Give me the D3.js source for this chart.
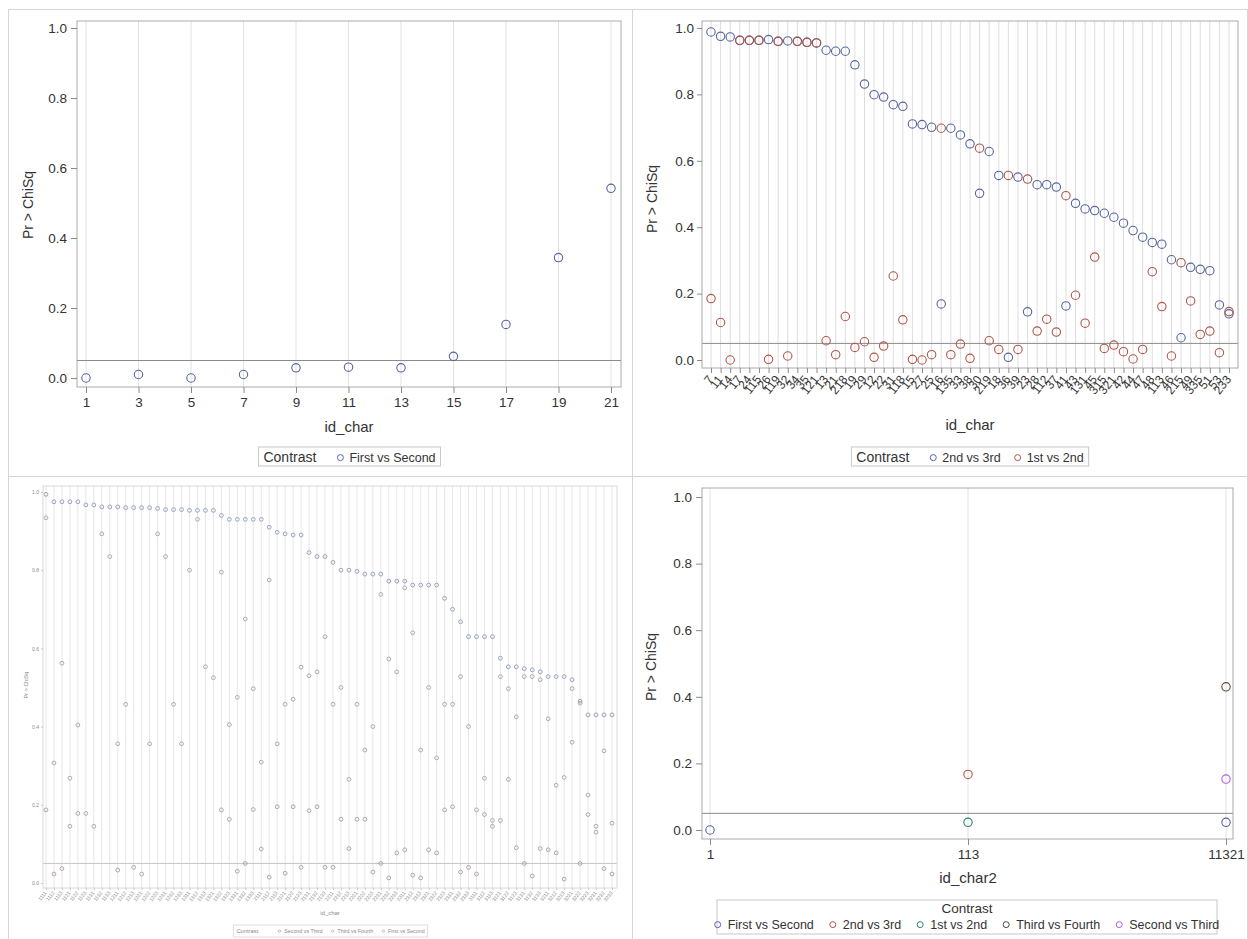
<!DOCTYPE html>
<html>
<head>
<meta charset="utf-8">
<script src="https://cdn.jsdelivr.net/npm/d3@7"></script>
<style>
  body { margin: 0; background: #fff; }
  text { font-family: "Liberation Sans", Arial, sans-serif; }
</style>
</head>
<body>
<script>
// ---------- data ----------
// top left: id_char, one contrast
var tlIds = ["1","3","5","7","9","11","13","15","17","19","21"];
var tlFirstSecond = [0.000,0.010,0.000,0.010,0.029,0.031,0.029,0.062,0.153,0.344,0.542];

// top right: id_char, two contrasts
var trIds = ["7","11","14","17","24","115","26","119","32","34","35","121","13","21","218","19","29","12","22","31",
             "118","15","27","25","16","135","33","38","30","219","18","36","39","23","28","112","37","41","43","131",
             "45","315","321","42","44","47","48","113","46","215","49","335","51","53","233"];
var tr2v3 = [0.988,0.975,0.973,0.963,0.963,0.963,0.965,0.960,0.961,0.960,0.957,0.955,0.933,0.930,0.930,0.889,0.831,0.799,0.792,0.769,
             0.764,0.711,0.709,0.701,0.169,0.698,0.678,0.651,0.502,0.628,0.556,0.008,0.551,0.145,0.528,0.528,0.521,0.163,0.472,0.455,
             0.450,0.442,0.430,0.412,0.390,0.370,0.354,0.349,0.302,0.067,0.279,0.273,0.269,0.166,0.139];
var tr1v2 = [0.185,0.113,0.000,0.963,0.963,0.963,0.002,0.960,0.012,0.960,0.957,0.955,0.058,0.016,0.131,0.038,0.055,0.008,0.042,0.253,
             0.121,0.002,0.000,0.016,0.698,0.016,0.048,0.005,0.638,0.058,0.032,0.556,0.032,0.545,0.087,0.123,0.084,0.495,0.195,0.111,
             0.310,0.035,0.045,0.025,0.003,0.032,0.266,0.161,0.012,0.293,0.178,0.077,0.087,0.022,0.146];

// bottom left: id_char, three contrasts (null = not shown)
var blIds = ["1111","1112","1113","1121","1122","1123","1131","1132","1133","1211","1212","1213","1221","1222","1223","1231","1232","1233",
             "1311","1312","1313","1321","1322","1323","1331","1332","1333","2111","2112","2113","2121","2122","2123","2131","2132","2133",
             "2211","2212","2213","2221","2222","2223","2231","2232","2233","2311","2312","2313","2321","2322","2323","2331","2332","2333",
             "3111","3112","3113","3121","3122","3123","3131","3132","3133","3211","3212","3213","3221","3222","3223","3231","3232","3233"];
var blSecondThird = [0.994,0.975,0.975,0.975,0.975,0.967,0.967,0.962,0.962,0.962,0.960,0.960,0.960,0.960,0.958,0.955,0.955,0.955,
                     0.953,0.953,0.953,0.953,0.940,0.930,0.930,0.930,0.930,0.930,0.910,0.897,0.893,0.890,0.890,0.845,0.835,0.835,
                     0.820,0.800,0.800,0.797,0.790,0.790,0.790,0.772,0.772,0.772,0.762,0.762,0.762,0.762,0.728,0.700,0.668,0.630,
                     0.630,0.630,0.630,0.575,0.553,0.553,0.548,0.545,0.540,0.528,0.528,0.528,0.520,0.465,0.430,0.430,0.430,0.430];
var blThirdFourth = [0.934,0.307,0.562,0.268,0.404,0.178,0.145,0.893,0.835,0.356,0.457,0.040,0.023,0.356,0.893,0.835,0.457,0.356,
                     0.800,0.930,0.553,0.525,0.795,0.405,0.475,0.675,0.497,0.309,0.775,0.356,0.457,0.470,0.552,0.530,0.540,0.630,
                     0.457,0.500,0.265,0.457,0.340,0.400,0.738,0.573,0.540,0.755,0.640,0.340,0.500,0.320,0.457,0.457,0.528,0.400,
                     0.187,0.268,0.160,0.528,0.497,0.425,0.528,0.528,0.520,0.420,0.250,0.270,0.497,0.460,0.225,0.145,0.338,0.153];
var blFirstSecond = [0.187,0.023,0.037,0.145,0.178,null,null,null,null,0.033,null,null,null,null,null,null,null,null,
                     null,null,null,null,0.187,0.163,0.030,0.050,0.188,0.087,0.015,0.195,0.025,0.195,0.040,0.185,0.195,0.040,
                     0.040,0.163,0.088,0.163,0.163,0.028,0.050,0.013,0.077,0.085,0.020,0.013,0.085,0.077,0.187,0.195,0.028,0.040,
                     0.023,0.175,0.145,0.160,0.265,0.090,0.050,0.018,0.088,0.085,0.077,0.010,0.360,0.050,0.175,0.130,0.037,0.023];

// bottom right: id_char2, five contrasts
var brIds = ["1","113","11321"];
var brFirstSecond = [0.000, null, 0.023];
var br2v3 = [null, 0.167, null];
var br1v2 = [null, 0.023, null];
var brThirdFourth = [null, null, 0.430];
var brSecondThird = [null, null, 0.153];

var yTicks = [0, 0.2, 0.4, 0.6, 0.8, 1.0];

// SAS-like colours
var cBlue = "#56669e", cRed = "#b0564a", cTeal = "#2f7d70", cBrown = "#5e4a3a", cPurple = "#b060d8";

var svg = d3.select("body").append("svg")
  .attr("width", 1248)
  .attr("height", 939);

// panel borders
svg.append("rect").attr("x", 8.5).attr("y", 9.5).attr("width", 1239).attr("height", 931)
  .attr("fill", "none").attr("stroke", "#d6d6d6");
svg.append("line").attr("x1", 632.5).attr("x2", 632.5).attr("y1", 9).attr("y2", 939).attr("stroke", "#d6d6d6");
svg.append("line").attr("x1", 8).attr("x2", 1248).attr("y1", 476.5).attr("y2", 476.5).attr("stroke", "#d6d6d6");

function drawPanel(p) {
  var g = svg.append("g");
  var x = d3.scalePoint().domain(p.cats).range([p.px0, p.px1]);
  var y = d3.scaleLinear().domain([0, 1]).range([p.py0, p.py1]);

  // vertical grid at each category
  g.append("g").selectAll("line")
    .data(p.cats)
    .enter()
    .append("line")
    .attr("x1", function(d) { return x(d); })
    .attr("x2", function(d) { return x(d); })
    .attr("y1", p.top)
    .attr("y2", p.bottom)
    .attr("stroke", p.grid);

  // reference line at 0.05
  g.append("line")
    .attr("x1", p.left).attr("x2", p.right)
    .attr("y1", y(0.05)).attr("y2", y(0.05))
    .attr("stroke", p.refColor).attr("stroke-width", 1);

  // frame
  g.append("rect")
    .attr("x", p.left).attr("y", p.top)
    .attr("width", p.right - p.left).attr("height", p.bottom - p.top)
    .attr("fill", "none").attr("stroke", p.frame);

  // axes
  var leftAxis = d3.axisLeft(y).tickValues(yTicks).tickFormat(d3.format(".1f"))
    .tickSize(p.tick).tickSizeOuter(0).tickPadding(p.tickPad);
  var ya = g.append("g").attr("transform", "translate(" + p.left + ",0)").call(leftAxis);
  ya.select(".domain").remove();
  ya.selectAll("line").attr("stroke", p.tickColor);
  ya.selectAll("text").attr("font-size", p.tickFont).attr("fill", p.textColor)
    .attr("font-family", "Liberation Sans, Arial, sans-serif");

  var bottomAxis = d3.axisBottom(x).tickSize(p.tick).tickSizeOuter(0).tickPadding(p.tickPad);
  var xa = g.append("g").attr("transform", "translate(0," + p.bottom + ")").call(bottomAxis);
  xa.select(".domain").remove();
  xa.selectAll("line").attr("stroke", p.tickColor);
  var xt = xa.selectAll("text").attr("font-size", p.xTickFont || p.tickFont).attr("fill", p.textColor)
    .attr("font-family", "Liberation Sans, Arial, sans-serif");
  if (p.rotate) {
    xt.attr("y", null).attr("dy", "0.35em")
      .attr("transform", "translate(-1," + (p.tick + p.rotOff) + ") rotate(" + p.rotate + ")")
      .style("text-anchor", "end");
  }

  // markers
  p.series.forEach(function(s) {
    var pts = p.cats.map(function(c, i) { return { c: c, v: s.values[i] }; })
      .filter(function(d) { return d.v !== null; });
    g.append("g").selectAll("circle")
      .data(pts)
      .enter()
      .append("circle")
      .attr("cx", function(d) { return x(d.c); })
      .attr("cy", function(d) { return y(d.v); })
      .attr("r", p.r)
      .attr("fill", "none")
      .attr("stroke", s.color)
      .attr("stroke-width", p.sw);
  });

  // axis titles
  g.append("text")
    .attr("transform", "translate(" + p.yTitleX + "," + p.yTitleY + ") rotate(-90)")
    .attr("text-anchor", "middle")
    .attr("font-size", p.titleFont)
    .attr("fill", p.textColor)
    .text("Pr > ChiSq");

  g.append("text")
    .attr("x", p.xTitleX).attr("y", p.xTitleY)
    .attr("text-anchor", "middle")
    .attr("font-size", p.xTitleFont || p.titleFont)
    .attr("fill", p.textColor)
    .text(p.xTitle);

  drawLegend(p.legend, p.series, p.textColor);
}

function drawLegend(L, series, textColor) {
  var g = svg.append("g");
  var box = g.append("rect").attr("fill", "#fff").attr("stroke", L.border);
  var items = g.append("g");
  var cx = 0;
  var title = null;
  if (!L.stacked) {
    title = items.append("text").attr("x", 0).attr("y", 0)
      .attr("font-size", L.titleFont).attr("fill", textColor).text("Contrast");
    cx = title.node().getComputedTextLength() + L.titleGap;
  }
  series.forEach(function(s) {
    items.append("circle").attr("cx", cx + L.r).attr("cy", -L.itemFont * 0.35)
      .attr("r", L.r).attr("fill", "none").attr("stroke", s.color).attr("stroke-width", L.sw);
    var t = items.append("text").attr("x", cx + L.markGap).attr("y", 0)
      .attr("font-size", L.itemFont).attr("fill", textColor).text(s.name);
    cx += L.markGap + t.node().getComputedTextLength() + L.itemGap;
  });
  var rowW = cx - L.itemGap;
  items.attr("transform", "translate(" + (L.cx - rowW / 2) + "," + L.rowY + ")");
  if (L.stacked) {
    g.append("text").attr("x", L.cx).attr("y", L.titleY).attr("text-anchor", "middle")
      .attr("font-size", L.titleFont).attr("fill", textColor).text("Contrast");
  }
  var w = L.w || rowW + 2 * L.pad;
  box.attr("x", L.cx - w / 2).attr("y", L.y).attr("width", w).attr("height", L.h);
}

// ---------- panels ----------
drawPanel({
  cats: tlIds, left: 77, right: 621, top: 21, bottom: 387,
  px0: 86, px1: 611, py0: 378, py1: 28,
  grid: "#e2e2e2", frame: "#a9a9a9", refColor: "#8a8a8a", tickColor: "#8a8a8a",
  tick: 6, tickPad: 4, tickFont: 13.5, textColor: "#333",
  r: 4.2, sw: 1.1,
  series: [{ name: "First vs Second", color: cBlue, values: tlFirstSecond }],
  yTitleX: 33, yTitleY: 205, titleFont: 14, xTitle: "id_char", xTitleX: 349, xTitleY: 432, xTitleFont: 15,
  legend: { cx: 349.5, y: 447, h: 19, rowY: 462, titleFont: 14, itemFont: 12.5, titleGap: 21, r: 3, sw: 1,
            markGap: 12, itemGap: 14, pad: 5, border: "#c8c8c8" }
});

drawPanel({
  cats: trIds, left: 702, right: 1238, top: 21, bottom: 368,
  px0: 711, px1: 1229, py0: 360, py1: 28,
  grid: "#dedede", frame: "#a9a9a9", refColor: "#8a8a8a", tickColor: "#8a8a8a",
  tick: 5, tickPad: 3, tickFont: 13.5, xTickFont: 12, textColor: "#333",
  rotate: -52, rotOff: 4,
  r: 4.2, sw: 1.1,
  series: [{ name: "2nd vs 3rd", color: cBlue, values: tr2v3 },
           { name: "1st vs 2nd", color: cRed, values: tr1v2 }],
  yTitleX: 657, yTitleY: 199, titleFont: 14, xTitle: "id_char", xTitleX: 970, xTitleY: 430, xTitleFont: 15,
  legend: { cx: 970, y: 447, h: 19, rowY: 462, titleFont: 14, itemFont: 12.5, titleGap: 21, r: 3, sw: 1,
            markGap: 12, itemGap: 14, pad: 5, border: "#c8c8c8" }
});

drawPanel({
  cats: blIds, left: 43, right: 617, top: 486, bottom: 888,
  px0: 46, px1: 612, py0: 883, py1: 492,
  grid: "#e6e6e6", frame: "#d8d8d8", refColor: "#c4c4c4", tickColor: "#c8c8c8",
  tick: 2, tickPad: 2, tickFont: 5, xTickFont: 5, textColor: "#8a8a8a",
  rotate: -52, rotOff: 2,
  r: 1.9, sw: 0.9,
  series: [{ name: "Second vs Third", color: "#8e9ab8", values: blSecondThird },
           { name: "Third vs Fourth", color: "#a4a4a4", values: blThirdFourth },
           { name: "First vs Second", color: "#ab9c9c", values: blFirstSecond }],
  yTitleX: 28, yTitleY: 685, titleFont: 5.5, xTitle: "id_char", xTitleX: 330, xTitleY: 915, xTitleFont: 6,
  legend: { cx: 330.5, y: 925, h: 12, rowY: 933, titleFont: 5.8, itemFont: 5.3, titleGap: 20, r: 1.2, sw: 0.6,
            markGap: 6, itemGap: 9, pad: 3, border: "#dedede" }
});

drawPanel({
  cats: brIds, left: 702, right: 1233, top: 488, bottom: 839,
  px0: 710, px1: 1226, py0: 830, py1: 497,
  grid: "#e2e2e2", frame: "#a9a9a9", refColor: "#8a8a8a", tickColor: "#8a8a8a",
  tick: 6, tickPad: 4, tickFont: 13.5, textColor: "#333",
  r: 4.2, sw: 1.1,
  series: [{ name: "First vs Second", color: cBlue, values: brFirstSecond },
           { name: "2nd vs 3rd", color: cRed, values: br2v3 },
           { name: "1st vs 2nd", color: cTeal, values: br1v2 },
           { name: "Third vs Fourth", color: cBrown, values: brThirdFourth },
           { name: "Second vs Third", color: cPurple, values: brSecondThird }],
  yTitleX: 656, yTitleY: 667, titleFont: 14, xTitle: "id_char2", xTitleX: 968, xTitleY: 883, xTitleFont: 15,
  legend: { stacked: true, cx: 967, y: 900, h: 34, w: 500, rowY: 929, titleY: 913, titleFont: 13.5, itemFont: 12.5,
            r: 3, sw: 1, markGap: 13, itemGap: 16, pad: 5, border: "#c8c8c8" }
});
</script>
</body>
</html>
